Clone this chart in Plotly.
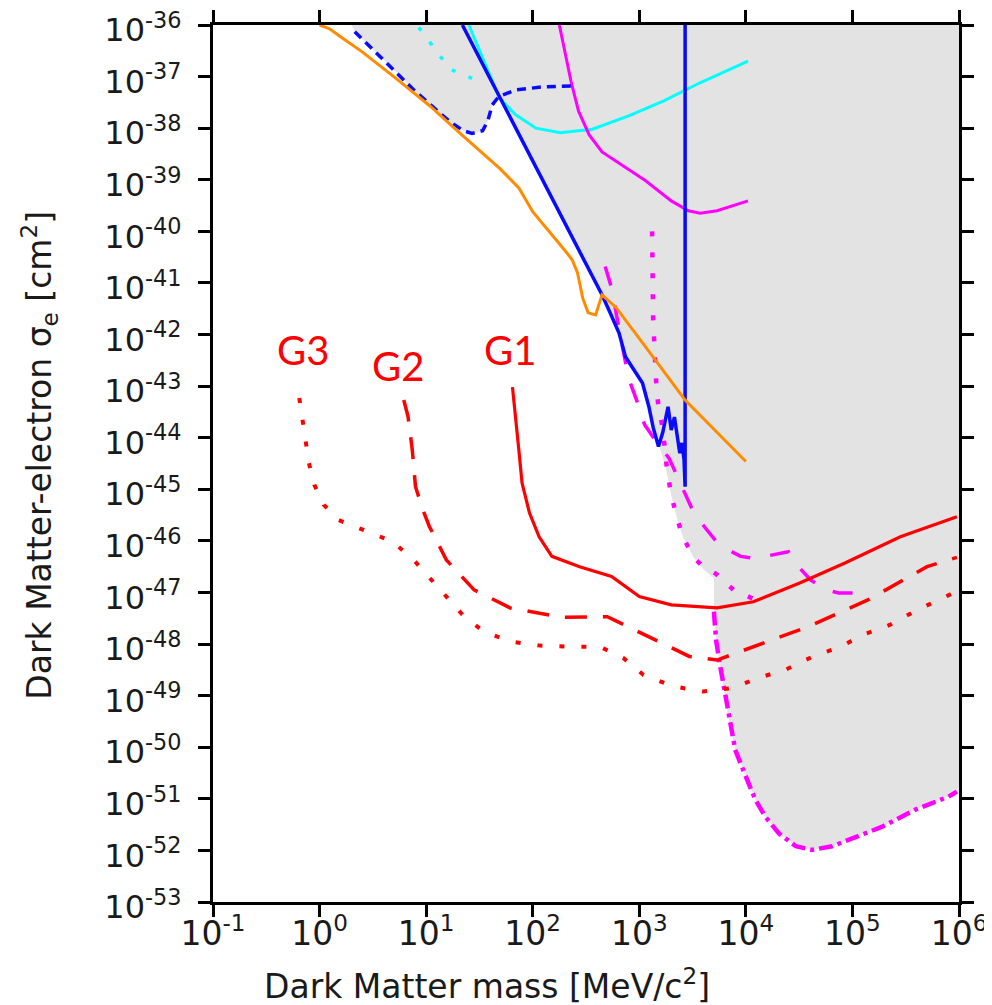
import numpy as np
import plotly.graph_objects as go

# ---------------- data (log10 of mass [MeV/c^2], log10 of sigma_e [cm^2]) ----------------
x_tick_exp = [-1, 0, 1, 2, 3, 4, 5, 6]
y_tick_exp = list(range(-36, -54, -1))

# excluded (grey) region boundary
excl_lm = [0.30, 0.33, 0.59, 0.90, 1.22, 1.35, 1.43, 1.53, 1.58, 1.62, 1.68,
           2.65, 2.72, 2.81, 2.87, 2.95, 3.03, 3.10, 3.18, 3.25, 3.30, 3.35, 3.41, 3.51,
           3.60, 3.70, 3.70, 3.72, 3.76, 3.81, 3.84, 3.90, 4.00, 4.09, 4.18, 4.31, 4.47,
           4.62, 4.81, 5.00, 5.28, 5.59, 5.90, 6.00, 6.00]
excl_ls = [-36.0, -36.13, -36.65, -37.29, -37.87, -38.05, -38.10, -38.05, -37.85, -37.55, -37.37,
           -41.23, -41.55, -41.97, -42.43, -42.70, -42.94, -43.50, -44.10, -44.60, -45.11, -45.53, -45.93, -46.32,
           -46.55, -46.72, -47.37, -47.92, -48.44, -49.02, -49.47, -50.05, -50.57, -51.02, -51.34, -51.67, -51.92,
           -51.99, -51.92, -51.76, -51.54, -51.21, -50.96, -50.83, -36.0]

orange_lm = [0.00, 0.09, 0.22, 0.40, 0.72, 1.03, 1.34, 1.69, 1.87, 2.00, 2.31, 2.37, 2.42,
             2.47, 2.52, 2.59, 2.65, 2.78, 3.15, 3.43, 4.00]
orange_ls = [-36.00, -36.07, -36.26, -36.52, -37.04, -37.56, -38.14, -38.78, -39.16, -39.62, -40.39,
             -40.55, -40.80, -41.30, -41.58, -41.62, -41.23, -41.47, -42.49, -43.27, -44.46]

blue_lm = [1.34, 2.65, 2.72, 2.81, 2.87, 2.95, 3.03, 3.09, 3.13, 3.18, 3.22, 3.27, 3.30,
           3.33, 3.36, 3.38, 3.40, 3.42, 3.43, 3.43]
blue_ls = [-36.00, -41.23, -41.55, -41.97, -42.43, -42.70, -42.94, -43.40, -43.80, -44.17, -43.90,
           -43.40, -43.85, -43.60, -44.10, -44.30, -44.10, -44.43, -44.95, -36.00]

blue_dash_lm = [0.33, 0.59, 0.90, 1.22, 1.35, 1.43, 1.53, 1.58, 1.62, 1.68, 1.84, 2.09, 2.36]
blue_dash_ls = [-36.13, -36.65, -37.29, -37.87, -38.05, -38.10, -38.05, -37.85, -37.55, -37.39,
                -37.26, -37.20, -37.18]

cyan_lm = [1.40, 1.56, 1.69, 1.84, 2.03, 2.26, 2.56, 2.90, 3.23, 3.57, 4.02]
cyan_ls = [-36.00, -36.78, -37.42, -37.74, -38.00, -38.09, -38.02, -37.76, -37.47, -37.12, -36.70]

cyan_dot_lm = [0.93, 0.97, 1.09, 1.23, 1.47]
cyan_dot_ls = [-36.05, -36.14, -36.50, -36.86, -37.07]

mag_lm = [2.25, 2.31, 2.36, 2.43, 2.53, 2.65, 2.81, 3.06, 3.30, 3.46, 3.57, 3.73, 4.02]
mag_ls = [-36.00, -36.58, -37.10, -37.67, -38.13, -38.46, -38.68, -39.02, -39.41, -39.60, -39.65,
          -39.60, -39.41]

mag_dot_lm = [3.12, 3.12, 3.13, 3.15, 3.16, 3.18, 3.22, 3.26, 3.30, 3.35, 3.41, 3.51, 3.60,
              3.72, 3.89, 4.17]
mag_dot_ls = [-40.00, -41.00, -41.70, -42.56, -43.00, -43.40, -43.82, -44.62, -45.11, -45.53,
              -45.93, -46.32, -46.50, -46.64, -46.96, -47.21]

mag_dash_lm = [2.68, 2.74, 2.82, 2.90, 2.98, 3.05, 3.15, 3.28, 3.40, 3.51, 3.62, 3.75, 3.95,
               4.05, 4.18, 4.40, 4.47, 4.61, 4.75, 4.87, 5.01]
mag_dash_ls = [-40.68, -41.10, -42.00, -42.85, -43.30, -43.75, -44.05, -44.40, -44.95, -45.45,
               -45.75, -46.08, -46.30, -46.33, -46.30, -46.21, -46.45, -46.76, -46.95, -47.01, -47.01]

mag_dd_lm = [3.70, 3.72, 3.76, 3.81, 3.84, 3.90, 4.00, 4.09, 4.18, 4.31, 4.47, 4.62, 4.81,
             5.00, 5.28, 5.59, 5.90, 5.98]
mag_dd_ls = [-47.37, -47.92, -48.44, -49.02, -49.47, -50.05, -50.57, -51.02, -51.34, -51.67,
             -51.92, -51.99, -51.92, -51.76, -51.54, -51.21, -50.96, -50.86]

g1_lm = [1.81, 1.84, 1.87, 1.90, 1.97, 2.06, 2.18, 2.44, 2.74, 3.00, 3.30, 3.73, 4.07, 4.50,
         4.93, 5.45, 5.98]
g1_ls = [-43.02, -43.59, -44.24, -44.88, -45.46, -45.92, -46.30, -46.50, -46.69, -47.08, -47.24,
         -47.30, -47.18, -46.82, -46.43, -45.92, -45.53]

g2_lm = [0.79, 0.83, 0.87, 0.90, 0.97, 1.03, 1.19, 1.45, 1.79, 2.27, 2.70, 3.08, 3.47, 3.73,
         4.07, 4.59, 5.15, 5.70, 5.98]
g2_ls = [-43.27, -43.59, -44.24, -44.95, -45.40, -45.72, -46.37, -46.95, -47.30, -47.48, -47.47,
         -47.85, -48.24, -48.31, -48.05, -47.66, -47.14, -46.50, -46.32]

g3_lm = [-0.19, -0.16, -0.13, -0.10, -0.05, 0.04, 0.17, 0.44, 0.68, 0.87, 1.04, 1.19, 1.34,
         1.54, 1.79, 2.07, 2.35, 2.63, 2.85, 3.04, 3.32, 3.60, 3.88, 4.11, 4.37, 4.63, 4.89,
         5.10, 5.35, 5.58, 5.81, 5.98]
g3_ls = [-43.23, -43.65, -44.11, -44.49, -44.91, -45.30, -45.59, -45.82, -46.01, -46.34, -46.72,
         -47.08, -47.43, -47.76, -47.95, -48.03, -48.05, -48.05, -48.27, -48.60, -48.82, -48.92,
         -48.85, -48.66, -48.50, -48.24, -48.05, -47.82, -47.63, -47.37, -47.14, -46.98]

label_text = ["G3", "G2", "G1"]
label_lm = [-0.16, 0.74, 1.79]
label_ls = [-42.30, -42.61, -42.30]


def p(a):
    return 10.0 ** np.array(a)


fig = go.Figure()

fig.add_trace(go.Scatter(x=p(excl_lm), y=p(excl_ls), mode="lines", fill="toself",
                         fillcolor="#e3e3e3", line=dict(width=0), hoverinfo="skip"))


def line(xs, ys, color, width, dash="solid"):
    fig.add_trace(go.Scatter(x=p(xs), y=p(ys), mode="lines",
                             line=dict(color=color, width=width, dash=dash)))


line(cyan_dot_lm, cyan_dot_ls, "#00ffff", 3.5, "4px,14px")
line(cyan_lm, cyan_ls, "#00ffff", 3)
line(mag_lm, mag_ls, "#ff00ff", 3)
line(mag_dot_lm, mag_dot_ls, "#ff00ff", 4.5, "5px,16px")
line(mag_dash_lm, mag_dash_ls, "#ff00ff", 3.5, "20px,20px")
line(mag_dd_lm, mag_dd_ls, "#ff00ff", 4.5, "14px,5px,4px,5px")
line(blue_dash_lm, blue_dash_ls, "#0a0aff", 3.5, "9px,6px")
line(blue_lm, blue_ls, "#0a0aff", 3.5)
line(orange_lm, orange_ls, "#ff8c00", 3)
line(g1_lm, g1_ls, "#ff0000", 3.2)
line(g2_lm, g2_ls, "#ff0000", 3.5, "22px,16px")
line(g3_lm, g3_ls, "#ff0000", 4, "5px,17px")

for t, xl, yl in zip(label_text, label_lm, label_ls):
    fig.add_annotation(x=xl, y=yl, xref="x", yref="y", text=t, showarrow=False,
                       xanchor="center", yanchor="middle",
                       font=dict(family="Lato", size=40, color="#ff0000"))

axis_common = dict(type="log", showgrid=False, zeroline=False, showline=True, linewidth=3,
                   linecolor="black", mirror="ticks", ticks="outside", ticklen=12,
                   tickwidth=3, tickcolor="black", automargin=False,
                   ticklabeloverflow="allow")

fig.update_xaxes(range=[-1, 6], tickvals=[10.0 ** e for e in x_tick_exp],
                 ticktext=[f"10<sup>{e}</sup>" for e in x_tick_exp],
                 tickfont=dict(family="DejaVu Sans", size=33, color="#1a1a1a"),
                 ticklabelstandoff=-12, **axis_common)
fig.update_yaxes(range=[-53, -36], tickvals=[10.0 ** e for e in y_tick_exp],
                 ticktext=[f"10<sup>{e}</sup>" for e in y_tick_exp],
                 tickfont=dict(family="DejaVu Sans", size=32, color="#1a1a1a"),
                 ticklabelstandoff=10, ticklabelshift=5, **axis_common)

fig.add_annotation(xref="paper", yref="paper", x=-0.232, y=0.51, textangle=-90,
                   xanchor="center", yanchor="middle",
                   text="Dark Matter-electron σ<sub>e</sub> [cm<sup>2</sup>]", showarrow=False,
                   font=dict(family="DejaVu Sans", size=33, color="#1a1a1a"))
fig.add_annotation(xref="paper", yref="paper", x=0.367, y=-0.0946,
                   xanchor="center", yanchor="middle",
                   text="Dark Matter mass [MeV/c<sup>2</sup>]", showarrow=False,
                   font=dict(family="DejaVu Sans", size=33, color="#1a1a1a"))

fig.update_layout(width=984, height=997, margin=dict(l=205, r=33, t=17, b=103),
                  paper_bgcolor="white", plot_bgcolor="white", showlegend=False)

fig.write_html("out.html")
